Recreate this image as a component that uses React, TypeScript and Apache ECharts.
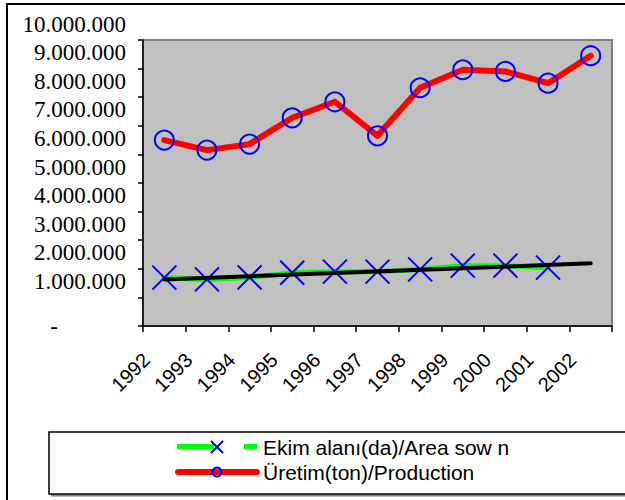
import React, { useEffect, useRef } from "react";
import * as echarts from "echarts";

const years = ["1992", "1993", "1994", "1995", "1996", "1997", "1998", "1999", "2000", "2001", "2002"];
const areaSown = [1690000, 1630000, 1700000, 1860000, 1900000, 1900000, 1980000, 2110000, 2110000, 2040000, null];
const production = [6500000, 6150000, 6360000, 7280000, 7840000, 6650000, 8330000, 8960000, 8900000, 8490000, 9450000];
const trendEnds = [1630000, 2190000];
const areaName = "Ekim alanı(da)/Area sow n";
const prodName = "Üretim(ton)/Production";

function fmt(v: number): string {
  return String(Math.round(v)).replace(/\B(?=(\d{3})+(?!\d))/g, ".");
}

const serif = "'Liberation Serif', 'Times New Roman', serif";
const sans = "'Liberation Sans', Arial, sans-serif";

export default function App() {
  const ref = useRef<HTMLDivElement>(null);
  useEffect(() => {
    if (!ref.current) return;
    const chart = echarts.init(ref.current, null, { renderer: "svg" });
    const trend = years.map((_, i) => (i === 0 ? trendEnds[0] : i === years.length - 1 ? trendEnds[1] : null));
    const yBase = {
      type: "value",
      min: 0,
      max: 10000000,
      interval: 1000000,
      position: "left",
      splitLine: { show: false },
    };
    chart.setOption({
      animation: false,
      backgroundColor: "#ffffff",
      grid: {
        left: 143,
        right: 13,
        top: 40,
        bottom: 174,
        show: true,
        backgroundColor: "#C0C0C0",
        borderColor: "#808080",
        borderWidth: 2,
      },
      xAxis: {
        type: "category",
        data: years,
        boundaryGap: true,
        axisLine: { lineStyle: { color: "#000", width: 1.5 } },
        axisTick: { show: true, length: 6, alignWithLabel: false, lineStyle: { color: "#000", width: 1.5 } },
        axisLabel: {
          rotate: 45,
          interval: 0,
          margin: 12.5,
          color: "#000",
          fontFamily: sans,
          fontSize: 20,
          padding: [0, 25.5, 0, 0],
        },
        splitLine: { show: false },
      },
      yAxis: [
        {
          ...yBase,
          axisLine: { show: true, lineStyle: { color: "#000", width: 1.5 } },
          axisTick: { show: true, length: 5, lineStyle: { color: "#000", width: 1.5 } },
          axisLabel: {
            margin: 17,
            color: "#000",
            fontFamily: serif,
            fontSize: 23,
            lineHeight: 22,
            verticalAlign: "bottom",
            padding: [0, 0, 5, 0],
            showMinLabel: true,
            showMaxLabel: true,
            formatter: (v: number) => (v === 0 ? "" : fmt(v)),
          },
        },
        {
          ...yBase,
          axisLine: { show: false },
          axisTick: { show: false },
          axisLabel: {
            margin: 85,
            color: "#000",
            fontFamily: serif,
            fontSize: 23,
            verticalAlign: "middle",
            showMinLabel: true,
            showMaxLabel: true,
            formatter: (v: number) => (v === 0 ? "-" : ""),
          },
        },
      ],
      series: [
        {
          name: areaName,
          type: "line",
          data: areaSown,
          z: 2,
          lineStyle: { color: "#00FF00", width: 5 },
          symbol: "path://M0,0L10,10M10,0L0,10",
          symbolSize: 24,
          itemStyle: { color: "transparent", borderColor: "#0000FF", borderWidth: 2 },
        },
        {
          name: "trend",
          type: "line",
          data: trend,
          connectNulls: true,
          z: 3,
          symbol: "none",
          lineStyle: { color: "#000000", width: 4, cap: "round" },
        },
        {
          name: prodName,
          type: "line",
          data: production,
          z: 4,
          lineStyle: { color: "#FF0000", width: 6, cap: "round", join: "round" },
          symbol: "circle",
          symbolSize: 19,
          itemStyle: { color: "transparent", borderColor: "#0000FF", borderWidth: 2 },
        },
      ],
      graphic: [
        {
          type: "rect",
          z: -10,
          silent: true,
          shape: { x: 7, y: 4, width: 700, height: 600 },
          style: { fill: "none", stroke: "#000", lineWidth: 2 },
        },
        {
          type: "line",
          z: 10,
          shape: { x1: 51, y1: 495.5, x2: 700, y2: 495.5 },
          style: { stroke: "#808080", lineWidth: 2 },
        },
        {
          type: "rect",
          z: 10,
          shape: { x: 49, y: 432, width: 700, height: 62 },
          style: { fill: "#fff", stroke: "#000", lineWidth: 1.5 },
        },
        {
          type: "line",
          z: 11,
          shape: { x1: 177, y1: 446.5, x2: 214, y2: 446.5 },
          style: { stroke: "#00FF00", lineWidth: 5 },
        },
        {
          type: "line",
          z: 12,
          shape: { x1: 211, y1: 441, x2: 223, y2: 453 },
          style: { stroke: "#0000FF", lineWidth: 2 },
        },
        {
          type: "line",
          z: 12,
          shape: { x1: 223, y1: 441, x2: 211, y2: 453 },
          style: { stroke: "#0000FF", lineWidth: 2 },
        },
        {
          type: "line",
          z: 11,
          shape: { x1: 244, y1: 446.5, x2: 257, y2: 446.5 },
          style: { stroke: "#00FF00", lineWidth: 5 },
        },
        {
          type: "text",
          z: 12,
          x: 263,
          y: 447,
          style: {
            text: areaName,
            fill: "#000",
            font: "21px " + sans,
            verticalAlign: "middle",
          },
        },
        {
          type: "line",
          z: 11,
          shape: { x1: 178, y1: 472, x2: 257, y2: 472 },
          style: { stroke: "#FF0000", lineWidth: 6, lineCap: "round" },
        },
        {
          type: "circle",
          z: 12,
          shape: { cx: 217, cy: 472, r: 4.5 },
          style: { fill: "none", stroke: "#0000FF", lineWidth: 2 },
        },
        {
          type: "text",
          z: 12,
          x: 263,
          y: 472,
          style: {
            text: prodName,
            fill: "#000",
            font: "21px " + sans,
            verticalAlign: "middle",
          },
        },
      ],
    });
    return () => chart.dispose();
  }, []);
  return (
    <div
      ref={ref}
      style={{ position: "absolute", left: 0, top: 0, width: 625, height: 500 }}
    />
  );
}
